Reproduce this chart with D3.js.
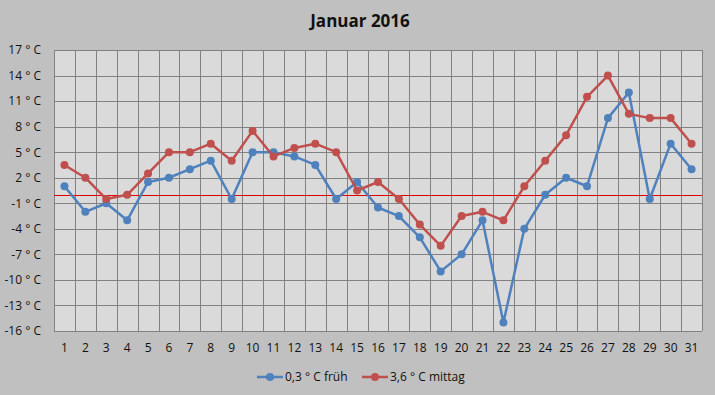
<!DOCTYPE html>
<html>
<head>
<meta charset="utf-8">
<script src="https://cdn.jsdelivr.net/npm/d3@7"></script>
<style>
  body { margin: 0; background: #c0c0c0; }
  text { font-family: "Open Sans", "Liberation Sans", sans-serif; }
</style>
</head>
<body>
<div id="viz"></div>
<script>
var days = d3.range(1, 32);
var frueh = [1, -2, -1, -3, 1.5, 2, 3, 4, -0.5, 5, 5, 4.5, 3.5, -0.5, 1.5, -1.5,
  -2.5, -5, -9, -7, -3, -15, -4, 0, 2, 1, 9, 12, -0.5, 6, 3];
var mittag = [3.5, 2, -0.5, 0, 2.5, 5, 5, 6, 4, 7.5, 4.5, 5.5, 6, 5, 0.5, 1.5,
  -0.5, -3.5, -6, -2.5, -2, -3, 1, 4, 7, 11.5, 14, 9.5, 9, 9, 6];
var yTicks = [17, 14, 11, 8, 5, 2, -1, -4, -7, -10, -13, -16];
var seriesNames = ["0,3 ° C früh", "3,6 ° C mittag"];
var seriesColors = ["#4f81bd", "#c0504d"];

var width = 715, height = 395;
var margin = { top: 50, right: 13, bottom: 64, left: 54 };

var svg = d3.select("#viz").append("svg")
  .attr("width", width)
  .attr("height", height)
  .style("display", "block")
  .style("background", "#c0c0c0");

var xScale = d3.scaleBand().domain(days).range([margin.left, width - margin.right]);
var yScale = d3.scaleLinear().domain([-16, 17]).range([height - margin.bottom, margin.top]);

// plot area
svg.append("rect")
  .attr("x", margin.left)
  .attr("y", margin.top)
  .attr("width", width - margin.left - margin.right)
  .attr("height", height - margin.top - margin.bottom)
  .attr("fill", "#dadada");

// horizontal grid
svg.append("g").selectAll("line")
  .data(yTicks)
  .enter().append("line")
  .attr("x1", margin.left)
  .attr("x2", width - margin.right)
  .attr("y1", function (d) { return Math.round(yScale(d)) + 0.5; })
  .attr("y2", function (d) { return Math.round(yScale(d)) + 0.5; })
  .attr("stroke", "#828282");

// vertical grid
var xEdges = days.map(function (d) { return xScale(d); }).concat([width - margin.right]);
svg.append("g").selectAll("line")
  .data(xEdges)
  .enter().append("line")
  .attr("x1", function (d) { return Math.round(d) + 0.5; })
  .attr("x2", function (d) { return Math.round(d) + 0.5; })
  .attr("y1", margin.top)
  .attr("y2", height - margin.bottom)
  .attr("stroke", "#828282");

// zero line
svg.append("line")
  .attr("x1", margin.left)
  .attr("x2", width - margin.right)
  .attr("y1", Math.round(yScale(0)) + 0.5)
  .attr("y2", Math.round(yScale(0)) + 0.5)
  .attr("stroke", "#e00000")
  .attr("stroke-width", 1.2);

// y axis labels
var yAxis = d3.axisLeft(yScale).tickValues(yTicks).tickSize(0).tickPadding(13)
  .tickFormat(function (d) { return d + " ° C"; });
var gy = svg.append("g")
  .attr("transform", "translate(" + margin.left + ",0)")
  .call(yAxis);
gy.select(".domain").remove();
gy.selectAll("text").style("font-size", "12px").attr("fill", "#111");

// x axis labels
var xAxis = d3.axisBottom(xScale).tickSize(0).tickPadding(12);
var gx = svg.append("g")
  .attr("transform", "translate(0," + (height - margin.bottom) + ")")
  .call(xAxis);
gx.select(".domain").remove();
gx.selectAll("text").style("font-size", "12px").attr("fill", "#111");

// series
var line = d3.line()
  .x(function (d, i) { return xScale(days[i]) + xScale.bandwidth() / 2; })
  .y(function (d) { return yScale(d); });

[frueh, mittag].forEach(function (values, k) {
  var g = svg.append("g");
  g.append("path")
    .datum(values)
    .attr("d", line)
    .attr("fill", "none")
    .attr("stroke", seriesColors[k])
    .attr("stroke-width", 2.5)
    .attr("stroke-linejoin", "round");
  g.selectAll("circle")
    .data(values)
    .enter().append("circle")
    .attr("cx", function (d, i) { return xScale(days[i]) + xScale.bandwidth() / 2; })
    .attr("cy", function (d) { return yScale(d); })
    .attr("r", 4)
    .attr("fill", seriesColors[k]);
});

// title
svg.append("text")
  .attr("x", 360)
  .attr("y", 27)
  .attr("text-anchor", "middle")
  .style("font-size", "17px")
  .style("font-weight", "bold")
  .attr("fill", "#111")
  .text("Januar 2016");

// legend
var legendX = [257, 362];
seriesNames.forEach(function (name, k) {
  var lg = svg.append("g").attr("transform", "translate(" + legendX[k] + ",377)");
  lg.append("line")
    .attr("x1", 0).attr("x2", 26)
    .attr("stroke", seriesColors[k])
    .attr("stroke-width", 2.5);
  lg.append("circle").attr("cx", 13).attr("r", 4).attr("fill", seriesColors[k]);
  lg.append("text")
    .attr("x", 28)
    .attr("dy", "0.35em")
    .style("font-size", "12px")
    .attr("fill", "#111")
    .text(name);
});
</script>
</body>
</html>
